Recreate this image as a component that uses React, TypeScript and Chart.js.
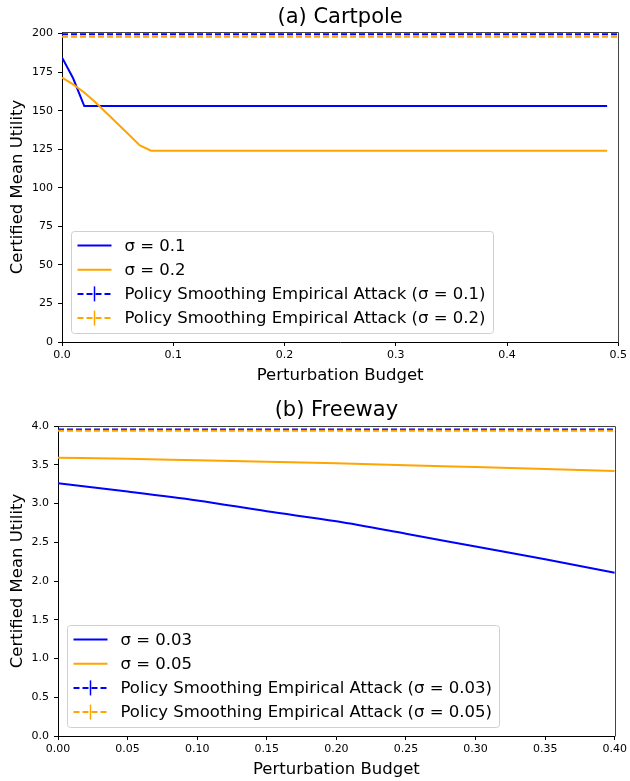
import React, { useEffect, useRef } from "react";
import { Chart, registerables } from "chart.js";

Chart.register(...registerables);

// ---------- Data: (a) Cartpole ----------
const cartpoleSigma01X = [0, 0.01, 0.02, 0.49];
const cartpoleSigma01Y = [184.5, 171, 153, 153];
const cartpoleSigma02X = [0, 0.01, 0.02, 0.03, 0.04, 0.05, 0.06, 0.07, 0.08, 0.49];
const cartpoleSigma02Y = [171.5, 167, 161.8, 155.5, 148.5, 141.5, 134.5, 127.5, 124, 124];
const cartpoleAttackX = [0, 0.5];
const cartpoleAttack01Y = [199.6, 199.6];
const cartpoleAttack02Y = [198, 198];
const cartpoleLabels = [
  "σ = 0.1",
  "σ = 0.2",
  "Policy Smoothing Empirical Attack (σ = 0.1)",
  "Policy Smoothing Empirical Attack (σ = 0.2)",
];
const cartpoleXTicks = [0, 0.1, 0.2, 0.3, 0.4, 0.5];
const cartpoleYTicks = [0, 25, 50, 75, 100, 125, 150, 175, 200];

// ---------- Data: (b) Freeway ----------
const freewayX = [0, 0.05, 0.1, 0.15, 0.2, 0.25, 0.3, 0.35, 0.4];
const freewaySigma003Y = [3.26, 3.155, 3.04, 2.9, 2.77, 2.61, 2.444, 2.28, 2.107];
const freewaySigma005Y = [3.59, 3.577, 3.557, 3.538, 3.518, 3.495, 3.47, 3.445, 3.42];
const freewayAttackX = [0, 0.4];
const freewayAttack003Y = [3.955, 3.955];
const freewayAttack005Y = [3.94, 3.94];
const freewayLabels = [
  "σ = 0.03",
  "σ = 0.05",
  "Policy Smoothing Empirical Attack (σ = 0.03)",
  "Policy Smoothing Empirical Attack (σ = 0.05)",
];
const freewayXTicks = [0, 0.05, 0.1, 0.15, 0.2, 0.25, 0.3, 0.35, 0.4];
const freewayYTicks = [0, 0.5, 1, 1.5, 2, 2.5, 3, 3.5, 4];

const BLUE = "#0000ff";
const ORANGE = "#ffa500";
const FAMILY = '"DejaVu Sans", sans-serif';

const pts = (xs: number[], ys: number[]) => xs.map((x, i) => ({ x, y: ys[i] }));

const framePlugin = {
  id: "frame",
  afterDraw(chart: any, _args: any, opts: any) {
    const ctx = chart.ctx as CanvasRenderingContext2D;
    const ca = chart.chartArea;
    ctx.save();
    // top/right spines
    ctx.strokeStyle = "#444";
    ctx.lineWidth = 1;
    ctx.beginPath();
    ctx.moveTo(Math.round(ca.left) + 0.5, Math.round(ca.top) + 0.5);
    ctx.lineTo(Math.round(ca.right) + 0.5, Math.round(ca.top) + 0.5);
    ctx.lineTo(Math.round(ca.right) + 0.5, Math.round(ca.bottom) + 0.5);
    ctx.stroke();

    // title
    ctx.fillStyle = "#000";
    ctx.font = `21px ${FAMILY}`;
    ctx.textAlign = "center";
    ctx.textBaseline = "middle";
    ctx.fillText(opts.title, (ca.left + ca.right) / 2, opts.titleY);

    // legend
    const datasets = chart.data.datasets;
    ctx.font = `16.5px ${FAMILY}`;
    let maxW = 0;
    datasets.forEach((d: any) => {
      maxW = Math.max(maxW, ctx.measureText(d.label).width);
    });
    const left = Math.round(ca.left + 9) + 0.5;
    const h = 102;
    const bottom = Math.round(ca.bottom - 9) + 0.5;
    const top = bottom - h;
    const w = Math.round(53 + maxW + 8);
    const r = 3;
    ctx.beginPath();
    ctx.moveTo(left + r, top);
    ctx.lineTo(left + w - r, top);
    ctx.arcTo(left + w, top, left + w, top + r, r);
    ctx.lineTo(left + w, bottom - r);
    ctx.arcTo(left + w, bottom, left + w - r, bottom, r);
    ctx.lineTo(left + r, bottom);
    ctx.arcTo(left, bottom, left, bottom - r, r);
    ctx.lineTo(left, top + r);
    ctx.arcTo(left, top, left + r, top, r);
    ctx.closePath();
    ctx.fillStyle = "rgba(255,255,255,0.8)";
    ctx.fill();
    ctx.strokeStyle = "#d0d0d0";
    ctx.lineWidth = 1;
    ctx.stroke();

    datasets.forEach((d: any, i: number) => {
      const y = top + 14 + i * 24.2;
      ctx.strokeStyle = d.borderColor;
      ctx.lineWidth = 2;
      const dashed = Array.isArray(d.borderDash) && d.borderDash.length > 0;
      ctx.setLineDash(dashed ? [6, 3] : []);
      ctx.beginPath();
      ctx.moveTo(left + 6, y);
      ctx.lineTo(left + 40, y);
      ctx.stroke();
      ctx.setLineDash([]);
      if (dashed) {
        ctx.lineWidth = 1.5;
        ctx.beginPath();
        ctx.moveTo(left + 23, y - 7.5);
        ctx.lineTo(left + 23, y + 7.5);
        ctx.stroke();
      }
      ctx.fillStyle = "#000";
      ctx.textAlign = "left";
      ctx.textBaseline = "middle";
      ctx.fillText(d.label, left + 53, y + 1);
    });
    ctx.restore();
  },
};

function makeDatasets(
  labels: string[],
  s1: { x: number; y: number }[],
  s2: { x: number; y: number }[],
  a1: { x: number; y: number }[],
  a2: { x: number; y: number }[],
  smooth: boolean
) {
  const base: any = { borderWidth: 2, pointRadius: 0, fill: false, tension: 0 };
  const solid: any = smooth ? { ...base, cubicInterpolationMode: "monotone" } : base;
  return [
    { ...solid, label: labels[0], data: s1, borderColor: BLUE, order: 4 },
    { ...solid, label: labels[1], data: s2, borderColor: ORANGE, order: 3 },
    { ...base, label: labels[2], data: a1, borderColor: BLUE, borderDash: [6, 3], order: 2 },
    { ...base, label: labels[3], data: a2, borderColor: ORANGE, borderDash: [6, 3], order: 1 },
  ];
}

function axisCommon() {
  return {
    grid: { drawOnChartArea: false, drawTicks: true, tickLength: 4, color: "#000", lineWidth: 1 },
    border: { display: true, color: "#000", width: 1 },
  };
}

function buildConfig(p: any) {
  return {
    type: "line",
    data: { datasets: p.datasets },
    plugins: [framePlugin],
    options: {
      animation: false,
      responsive: false,
      maintainAspectRatio: false,
      layout: { padding: { left: 0, top: p.top, right: p.right, bottom: 0 } },
      plugins: {
        legend: { display: false },
        tooltip: { enabled: false },
        title: { display: false },
        frame: { title: p.title, titleY: p.titleY },
      },
      scales: {
        x: {
          type: "linear",
          min: 0,
          max: p.xMax,
          ...axisCommon(),
          ticks: {
            autoSkip: false,
            maxRotation: 0,
            padding: 3,
            color: "#000",
            font: { size: 11, family: FAMILY },
            callback: (v: number) => Number(v).toFixed(p.xDigits),
          },
          afterBuildTicks: (s: any) => {
            s.ticks = p.xTicks.map((v: number) => ({ value: v }));
          },
          title: {
            display: true,
            text: "Perturbation Budget",
            color: "#000",
            font: { size: 16.5, family: FAMILY },
            padding: { top: 0, bottom: p.xTitlePad },
          },
          afterFit: (s: any) => {
            s.height = p.xHeight;
          },
        },
        y: {
          type: "linear",
          min: 0,
          max: p.yMax,
          ...axisCommon(),
          ticks: {
            padding: 5,
            color: "#000",
            font: { size: 11, family: FAMILY },
            callback: (v: number) => Number(v).toFixed(p.yDigits),
          },
          afterBuildTicks: (s: any) => {
            s.ticks = p.yTicks.map((v: number) => ({ value: v }));
          },
          title: {
            display: true,
            text: "Certified Mean Utility",
            color: "#000",
            font: { size: 16.5, family: FAMILY },
            padding: { top: 8, bottom: 0 },
          },
          afterFit: (s: any) => {
            s.width = p.yWidth;
          },
        },
      },
    },
  };
}

function ChartCanvas({ config, width, height }: { config: any; width: number; height: number }) {
  const ref = useRef<HTMLCanvasElement | null>(null);
  useEffect(() => {
    if (!ref.current) return;
    const chart = new Chart(ref.current, config);
    return () => chart.destroy();
  }, [config]);
  return <canvas ref={ref} width={width} height={height} style={{ display: "block", width, height }} />;
}

const cartpoleConfig = buildConfig({
  datasets: makeDatasets(
    cartpoleLabels,
    pts(cartpoleSigma01X, cartpoleSigma01Y),
    pts(cartpoleSigma02X, cartpoleSigma02Y),
    pts(cartpoleAttackX, cartpoleAttack01Y),
    pts(cartpoleAttackX, cartpoleAttack02Y),
    false
  ),
  title: "(a) Cartpole",
  titleY: 18,
  top: 32,
  right: 10,
  xMax: 0.5,
  xTicks: cartpoleXTicks,
  xDigits: 1,
  xHeight: 48,
  xTitlePad: 4,
  yMax: 201,
  yTicks: cartpoleYTicks,
  yDigits: 0,
  yWidth: 62,
});

const freewayConfig = buildConfig({
  datasets: makeDatasets(
    freewayLabels,
    pts(freewayX, freewaySigma003Y),
    pts(freewayX, freewaySigma005Y),
    pts(freewayAttackX, freewayAttack003Y),
    pts(freewayAttackX, freewayAttack005Y),
    true
  ),
  title: "(b) Freeway",
  titleY: 21,
  top: 36,
  right: 14,
  xMax: 0.4,
  xTicks: freewayXTicks,
  xDigits: 2,
  xHeight: 45,
  xTitlePad: 1,
  yMax: 4,
  yTicks: freewayYTicks,
  yDigits: 1,
  yWidth: 58,
});

export default function App() {
  return (
    <div style={{ position: "absolute", left: 0, top: 0, width: 630, height: 781, background: "#fff" }}>
      <ChartCanvas config={cartpoleConfig} width={630} height={390} />
      <ChartCanvas config={freewayConfig} width={630} height={391} />
    </div>
  );
}
